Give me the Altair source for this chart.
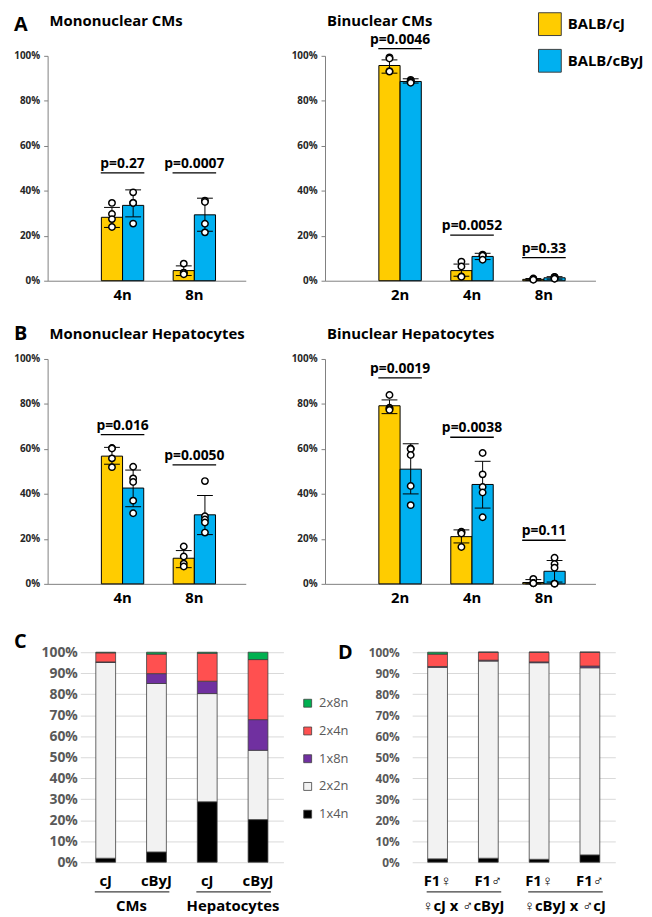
import altair as alt
import pandas as pd

FONT = "Open Sans"
strains = ["BALB/cJ", "BALB/cByJ"]
strain_colors = ["#FFCC00", "#00B0F0"]

# ---------------- Panel A (left): Mononuclear CMs ----------------
mcm_cats = ["4n", "8n"]
mcm_mean_cJ = [28.2, 4.5]
mcm_lo_cJ = [23.7, 2.3]
mcm_hi_cJ = [32.6, 6.6]
mcm_mean_cByJ = [33.5, 29.3]
mcm_lo_cByJ = [28.4, 22.0]
mcm_hi_cByJ = [40.4, 36.7]
mcm_pts_cJ = [[34.6, 29.7, 27.4, 23.9], [7.6, 3.6, 2.9, 3.4]]
mcm_pts_cByJ = [[39.3, 34.6, 34.6, 25.4], [35.6, 35.0, 25.3, 21.5]]
mcm_p = ["p=0.27", "p=0.0007"]
mcm_p_at = [48.0, 48.0]

# ---------------- Panel A (right): Binuclear CMs ----------------
bcm_cats = ["2n", "4n", "8n"]
bcm_mean_cJ = [95.7, 4.5, 0.6]
bcm_lo_cJ = [92.3, 2.0, 0.2]
bcm_hi_cJ = [98.2, 7.4, 1.0]
bcm_mean_cByJ = [88.6, 10.8, 1.3]
bcm_lo_cByJ = [87.9, 9.4, 0.7]
bcm_hi_cByJ = [89.8, 12.2, 1.8]
bcm_pts_cJ = [[99.3, 98.8, 93.2, 93.0], [8.5, 6.3, 1.9, 1.8], [1.0, 0.7, 0.6, 0.4]]
bcm_pts_cByJ = [[89.3, 88.8, 88.4, 88.0], [11.6, 11.2, 11.1, 9.3], [1.7, 1.6, 1.0, 0.9]]
bcm_p = ["p=0.0046", "p=0.0052", "p=0.33"]
bcm_p_at = [103.2, 20.3, 10.3]

# ---------------- Panel B (left): Mononuclear Hepatocytes ----------------
mhep_cats = ["4n", "8n"]
mhep_mean_cJ = [56.8, 11.4]
mhep_lo_cJ = [53.2, 7.2]
mhep_hi_cJ = [60.7, 14.8]
mhep_mean_cByJ = [42.6, 30.7]
mhep_lo_cByJ = [34.3, 21.9]
mhep_hi_cByJ = [50.6, 39.3]
mhep_pts_cJ = [[60.4, 60.2, 55.8, 51.9], [16.6, 12.2, 9.0, 7.7]]
mhep_pts_cByJ = [[52.1, 46.9, 45.3, 37.0, 31.4], [45.7, 30.1, 28.6, 27.3, 22.8]]
mhep_p = ["p=0.016", "p=0.0050"]
mhep_p_at = [66.4, 52.9]

# ---------------- Panel B (right): Binuclear Hepatocytes ----------------
bhep_cats = ["2n", "4n", "8n"]
bhep_mean_cJ = [79.2, 21.0, 0.6]
bhep_lo_cJ = [75.7, 18.2, 0.0]
bhep_hi_cJ = [81.8, 24.0, 1.9]
bhep_mean_cByJ = [51.0, 44.2, 5.6]
bhep_lo_cByJ = [40.0, 33.7, 0.8]
bhep_hi_cByJ = [62.3, 54.5, 10.4]
bhep_pts_cJ = [[84.0, 78.3, 77.8, 77.3], [23.2, 23.0, 22.4, 16.4], [2.2, 0.4, 0.3, 0.3]]
bhep_pts_cByJ = [[60.2, 60.0, 57.3, 43.5, 35.0], [58.2, 48.7, 43.1, 40.6, 29.6], [11.6, 8.8, 7.2, 0.1, 0.1]]
bhep_p = ["p=0.0019", "p=0.0038", "p=0.11"]
bhep_p_at = [91.6, 65.2, 19.4]

# ---------------- Panels C and D: stacked composition ----------------
ploidy_stack = ["1x4n", "2x2n", "1x8n", "2x4n", "2x8n"]          # bottom -> top
legend_order = ["2x8n", "2x4n", "1x8n", "2x2n", "1x4n"]
legend_colors = ["#00B050", "#FF5050", "#7030A0", "#F2F2F2", "#000000"]

C_ids = ["cJ|CMs", "cByJ|CMs", "cJ|Hep", "cByJ|Hep"]
C_groups = ["CMs", "Hepatocytes"]
C_1x4n = [1.9, 4.9, 28.8, 20.3]
C_2x2n = [93.2, 80.2, 51.5, 33.0]
C_1x8n = [0.3, 4.7, 5.9, 14.6]
C_2x4n = [4.3, 9.3, 13.3, 28.6]
C_2x8n = [0.3, 0.9, 0.5, 3.5]

D_ids = ["F1\u2640|a", "F1\u2642|a", "F1\u2640|b", "F1\u2642|b"]
D_groups = ["\u2640cJ x \u2642cByJ", "\u2640cByJ x \u2642cJ"]
D_1x4n = [1.6, 1.9, 1.4, 3.5]
D_2x2n = [91.2, 93.9, 93.6, 89.1]
D_1x8n = [0.4, 0.4, 0.4, 0.8]
D_2x4n = [5.9, 3.8, 4.6, 6.6]
D_2x8n = [0.9, 0.0, 0.0, 0.0]


def jitter(vals, thr=3.0, step=6.0):
    order = sorted(range(len(vals)), key=lambda i: -vals[i])
    clusters = []
    for i in order:
        if clusters and vals[clusters[-1][-1]] - vals[i] < thr:
            clusters[-1].append(i)
        else:
            clusters.append([i])
    dx = [0.0] * len(vals)
    for c in clusters:
        k = len(c)
        for j, i in enumerate(c):
            dx[i] = (j - (k - 1) / 2) * step
    return dx


def text_layer(txt, x, y, size, align="left", weight="bold", color="black"):
    return alt.Chart(pd.DataFrame(dict(t=[txt]))).mark_text(
        align=align, baseline="alphabetic", font=FONT, fontSize=size, fontWeight=weight,
        color=color).encode(x=alt.value(x), y=alt.value(y), text="t:N")


def bar_panel(cats, m1, lo1, hi1, m2, lo2, hi2, p1, p2, plabels, p_at, width,
              title, title_y, letter=None, letter_y=0, legend=None):
    rows = []
    for i, c in enumerate(cats):
        rows.append(dict(cat=c, strain=strains[0], mean=m1[i], lo=lo1[i], hi=hi1[i]))
        rows.append(dict(cat=c, strain=strains[1], mean=m2[i], lo=lo2[i], hi=hi2[i]))
    bars = pd.DataFrame(rows)
    pts = []
    for i, c in enumerate(cats):
        for s, plist in ((strains[0], p1[i]), (strains[1], p2[i])):
            for v, d in zip(plist, jitter(plist)):
                pts.append(dict(cat=c, strain=s, v=v, dx=d))
    pts = pd.DataFrame(pts)
    pdf = pd.DataFrame(dict(cat=cats, label=plabels, at=p_at))

    xs = alt.Scale(domain=cats, paddingInner=0.41, paddingOuter=0.585, align=0.64)
    xax = alt.Axis(title=None, labelFontSize=15, labelFontWeight="bold", labelColor="black",
                   labelPadding=7, ticks=False, domainColor="#808080", labelAngle=0, labelFont=FONT)
    X = alt.X("cat:N", scale=xs, axis=xax)
    XO = alt.XOffset("strain:N", scale=alt.Scale(domain=strains, paddingInner=0, paddingOuter=0))
    ys = alt.Scale(domain=[0, 100], nice=False)
    yax = alt.Axis(title=None, values=[0, 20, 40, 60, 80, 100], labelExpr="datum.value + '%'",
                   labelFontSize=10, labelFontWeight="bold", labelColor="#262626", tickSize=4,
                   tickColor="#808080", domainColor="#808080", labelPadding=4, grid=False, labelFont=FONT)

    layers = []
    layers.append(alt.Chart(bars).mark_bar(stroke="black", strokeWidth=1, opacity=1).encode(
        x=X, xOffset=XO, y=alt.Y("mean:Q", scale=ys, axis=yax),
        color=alt.Color("strain:N", scale=alt.Scale(domain=strains, range=strain_colors), legend=legend)))
    layers.append(alt.Chart(bars).mark_rule(color="black", strokeWidth=1).encode(
        x=X, xOffset=XO, y=alt.Y("lo:Q", scale=ys, axis=yax), y2="hi:Q"))
    for f in ("lo", "hi"):
        layers.append(alt.Chart(bars).mark_tick(color="black", thickness=1, size=16, opacity=1).encode(
            x=X, xOffset=XO, y=alt.Y(f + ":Q", scale=ys, axis=yax)))
    for d in sorted(pts["dx"].unique()):
        layers.append(alt.Chart(pts[pts["dx"] == d]).mark_point(
            shape="circle", filled=True, fill="white", stroke="black", strokeWidth=1.5,
            size=42, opacity=1, dx=float(d)).encode(
            x=X, xOffset=XO, y=alt.Y("v:Q", scale=ys, axis=yax)))
    layers.append(alt.Chart(pdf).mark_tick(color="black", thickness=1.3, size=44, opacity=1).encode(
        x=X, y=alt.Y("at:Q", scale=ys, axis=yax)))
    layers.append(alt.Chart(pdf).mark_text(baseline="alphabetic", dy=-5, font=FONT, fontSize=14,
                                           fontWeight="bold", color="black").encode(
        x=X, y=alt.Y("at:Q", scale=ys, axis=yax), text="label:N"))
    layers.append(text_layer(title, 2, title_y, 15))
    if letter:
        layers.append(text_layer(letter, -34, letter_y, 20))
    return alt.layer(*layers).properties(width=width, height=227)


def stack_panel(ids, comps, groups, letters, ylab_size, ylab_pad, legend=None):
    rows = []
    for rank, (name, vals) in enumerate(zip(ploidy_stack, comps)):
        for i, v in enumerate(vals):
            rows.append(dict(id=ids[i], ploidy=name, val=v, rank=rank))
    df = pd.DataFrame(rows)
    gdf = pd.DataFrame(dict(first=[ids[0], ids[2]], last=[ids[1], ids[3]], g=groups))

    xs = alt.Scale(domain=ids, paddingInner=0.61, paddingOuter=0.305)
    xax = alt.Axis(title=None, labelExpr="split(datum.value, '|')[0]", labelFontSize=15,
                   labelFontWeight="bold", labelColor="black", labelPadding=11, ticks=False,
                   domain=False, labelAngle=0, labelFont=FONT)
    ys = alt.Scale(domain=[0, 100], nice=False)
    yax = alt.Axis(title=None, values=list(range(0, 101, 10)), labelExpr="datum.value + '%'",
                   labelFontSize=ylab_size, labelFontWeight="bold", labelColor="#595959",
                   ticks=False, domain=False, grid=True, gridColor="#D9D9D9", gridWidth=1,
                   labelPadding=ylab_pad, labelFont=FONT)

    bars = alt.Chart(df).mark_bar(stroke="#404040", strokeWidth=0.8, opacity=1).encode(
        x=alt.X("id:N", scale=xs, axis=xax),
        y=alt.Y("val:Q", stack="zero", scale=ys, axis=yax),
        color=alt.Color("ploidy:N", scale=alt.Scale(domain=legend_order, range=legend_colors), legend=legend),
        order=alt.Order("rank:Q", sort="ascending"))
    under = alt.Chart(gdf).mark_rule(color="#404040", strokeWidth=1.2, xOffset=-11, x2Offset=13).encode(
        x=alt.X("first:N", scale=xs, axis=xax), x2="last:N", y=alt.value(242))
    gtext = alt.Chart(gdf).mark_text(dx=26, baseline="middle", font=FONT, fontSize=15,
                                     fontWeight="bold", color="black").encode(
        x=alt.X("first:N", scale=xs, axis=xax), y=alt.value(256), text="g:N")
    lets = [text_layer(t, lx, ly, 20) for (t, lx, ly) in letters]
    return alt.layer(bars, under, gtext, *lets).properties(width=205, height=212)


strain_legend = alt.Legend(orient="none", legendX=215, legendY=-44, title=None, symbolType="square",
                           symbolSize=529, symbolStrokeColor="#404040", symbolStrokeWidth=1,
                           symbolOpacity=1, labelFont=FONT, labelFontSize=15, labelFontWeight="bold",
                           labelColor="black", rowPadding=9, labelOffset=6, padding=0)
ploidy_legend = alt.Legend(orient="none", legendX=223, legendY=45, title=None, symbolType="square",
                           symbolSize=64, symbolStrokeColor="#404040", symbolStrokeWidth=0.8,
                           symbolOpacity=1, labelFont=FONT, labelFontSize=13, labelColor="#595959",
                           rowPadding=14, labelOffset=5, padding=0)

A_left = bar_panel(mcm_cats, mcm_mean_cJ, mcm_lo_cJ, mcm_hi_cJ, mcm_mean_cByJ, mcm_lo_cByJ, mcm_hi_cByJ,
                   mcm_pts_cJ, mcm_pts_cByJ, mcm_p, mcm_p_at, 200, "Mononuclear CMs", -30, "A", -25)
A_right = bar_panel(bcm_cats, bcm_mean_cJ, bcm_lo_cJ, bcm_hi_cJ, bcm_mean_cByJ, bcm_lo_cByJ, bcm_hi_cByJ,
                    bcm_pts_cJ, bcm_pts_cByJ, bcm_p, bcm_p_at, 273, "Binuclear CMs", -30, legend=strain_legend)
B_left = bar_panel(mhep_cats, mhep_mean_cJ, mhep_lo_cJ, mhep_hi_cJ, mhep_mean_cByJ, mhep_lo_cByJ, mhep_hi_cByJ,
                   mhep_pts_cJ, mhep_pts_cByJ, mhep_p, mhep_p_at, 200, "Mononuclear Hepatocytes", -20, "B", -19)
B_right = bar_panel(bhep_cats, bhep_mean_cJ, bhep_lo_cJ, bhep_hi_cJ, bhep_mean_cByJ, bhep_lo_cByJ, bhep_hi_cByJ,
                    bhep_pts_cJ, bhep_pts_cByJ, bhep_p, bhep_p_at, 273, "Binuclear Hepatocytes", -20)

C_chart = stack_panel(C_ids, [C_1x4n, C_2x2n, C_1x8n, C_2x4n, C_2x8n], C_groups,
                      [("C", -67, -4), ("D", 260, 7)], 14, 3, legend=ploidy_legend)
D_chart = stack_panel(D_ids, [D_1x4n, D_2x2n, D_1x8n, D_2x4n, D_2x8n], D_groups, [], 12, 13)

spacer = alt.Chart(pd.DataFrame(dict(a=[0]))).mark_point(opacity=0, size=1).encode(
    x=alt.value(0), y=alt.value(0)).properties(width=1, height=1)

res = dict(color="independent", xOffset="independent")
row1 = alt.hconcat(A_left, A_right, spacing=80, bounds="flush").resolve_scale(**res)
row2 = alt.hconcat(B_left, B_right, spacing=80, bounds="flush").resolve_scale(**res)
cd = alt.hconcat(C_chart, D_chart, spacing=130, bounds="flush").resolve_scale(**res)
row3 = alt.hconcat(spacer, cd, spacing=32, bounds="flush").resolve_scale(**res)
top = alt.vconcat(row1, row2, spacing=22).resolve_scale(**res)
chart = alt.vconcat(top, row3, spacing=27).resolve_scale(**res).properties(
    padding={"left": 5, "top": 0, "right": 0, "bottom": 0}
).configure(font=FONT).configure_view(stroke=None)

chart.save("out.html", embed_options={"renderer": "svg", "actions": False})
